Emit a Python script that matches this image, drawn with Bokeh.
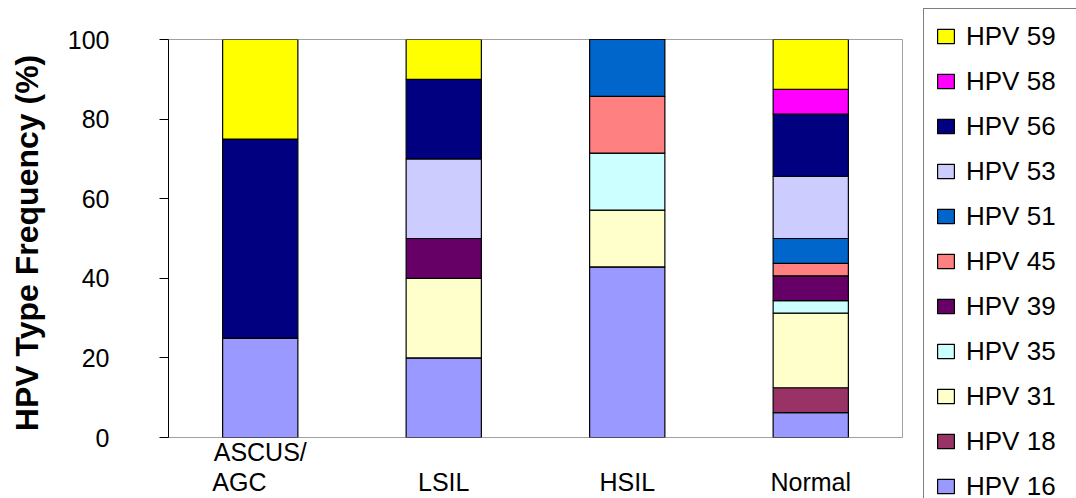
from bokeh.plotting import figure
from bokeh.layouts import row
from bokeh.models import (FactorRange, Range1d, Legend, LegendItem, FixedTicker,
                          ColumnDataSource, CustomJSTickFormatter)
from bokeh.embed import file_html
from bokeh.resources import INLINE

categories = ["ASCUS/AGC", "LSIL", "HSIL", "Normal"]
category_labels = ["ASCUS/\nAGC\u00a0\u00a0\u00a0\u00a0\u00a0\u00a0", "\nLSIL", "\nHSIL", "\nNormal"]

hpv16 = [25.0, 20.0, 42.86, 6.25]
hpv18 = [0.0, 0.0, 0.0, 6.25]
hpv31 = [0.0, 20.0, 14.29, 18.75]
hpv35 = [0.0, 0.0, 14.29, 3.125]
hpv39 = [0.0, 10.0, 0.0, 6.25]
hpv45 = [0.0, 0.0, 14.29, 3.125]
hpv51 = [0.0, 0.0, 14.28, 6.25]
hpv53 = [0.0, 20.0, 0.0, 15.625]
hpv56 = [50.0, 20.0, 0.0, 15.625]
hpv58 = [0.0, 0.0, 0.0, 6.25]
hpv59 = [25.0, 10.0, 0.0, 12.5]

series_names = ["HPV 16", "HPV 18", "HPV 31", "HPV 35", "HPV 39", "HPV 45",
                "HPV 51", "HPV 53", "HPV 56", "HPV 58", "HPV 59"]
series_values = [hpv16, hpv18, hpv31, hpv35, hpv39, hpv45, hpv51, hpv53, hpv56, hpv58, hpv59]
colors = ["#9999FF", "#993366", "#FFFFCC", "#CCFFFF", "#660066", "#FF8080",
          "#0066CC", "#CCCCFF", "#000080", "#FF00FF", "#FFFF00"]
y_ticks = [0, 20, 40, 60, 80, 100]

keys = ["s%d" % i for i in range(len(series_names))]
data = {"cat": categories}
for k, v in zip(keys, series_values):
    data[k] = v
source = ColumnDataSource(data)

p = figure(width=922, height=498, x_range=FactorRange(*categories, range_padding=0),
           y_range=Range1d(0, 100), output_backend="svg", toolbar_location=None,
           min_border_left=168, min_border_right=20, min_border_top=39, min_border_bottom=60)
p.frame_align = False

p.vbar_stack(keys, x="cat", width=0.41, source=source, fill_color=colors,
             line_color="black", line_width=1.2)

p.xgrid.visible = False
p.ygrid.visible = False
p.outline_line_color = "#a0a0a0"
p.outline_line_width = 1
p.background_fill_color = "white"
p.border_fill_color = "white"

# y axis
p.yaxis.ticker = FixedTicker(ticks=y_ticks)
p.yaxis.minor_tick_line_color = None
p.yaxis.major_tick_in = 0
p.yaxis.major_tick_out = 9
p.yaxis.axis_line_color = "black"
p.yaxis.major_tick_line_color = "black"
p.yaxis.major_label_text_font = "Liberation Sans"
p.yaxis.major_label_text_font_size = "25px"
p.yaxis.major_label_text_color = "black"
p.yaxis.major_label_standoff = 50
p.yaxis.axis_label = "HPV  Type Frequency (%)"
p.yaxis.axis_label_text_font = "Liberation Sans"
p.yaxis.axis_label_text_font_size = "32px"
p.yaxis.axis_label_text_font_style = "bold"
p.yaxis.axis_label_text_color = "black"
p.yaxis.axis_label_standoff = 20

# x axis
p.xaxis.axis_line_color = None
p.xaxis.major_tick_line_color = None
p.xaxis.minor_tick_line_color = None
p.xaxis.formatter = CustomJSTickFormatter(
    args=dict(cats=categories, labs=category_labels),
    code="const i = cats.indexOf(tick); return i >= 0 ? labs[i] : tick;")
p.xaxis.major_label_text_font = "Liberation Sans"
p.xaxis.major_label_text_font_size = "25px"
p.xaxis.major_label_text_color = "black"
p.xaxis.major_label_text_line_height = 1.08
p.xaxis.major_label_standoff = -6

# legend canvas to the right of the chart (its renderers are hidden; only the legend shows)
lf = figure(width=154, height=498, output_backend="svg", toolbar_location=None,
            x_axis_type=None, y_axis_type=None, min_border=0,
            x_range=FactorRange(*categories), y_range=Range1d(0, 100))
lf.frame_align = False
lf.outline_line_color = None
lf.xgrid.visible = False
lf.ygrid.visible = False
lf.background_fill_color = "white"
lf.border_fill_color = "white"

legend_renderers = lf.vbar_stack(keys, x="cat", width=0.41, source=source, fill_color=colors,
                                 line_color="black", line_width=1.2, visible=False)

items = [LegendItem(label=n, renderers=[r]) for n, r in zip(series_names, legend_renderers)]
items.reverse()
legend = Legend(items=items, location=(1, -16), ncols=1, margin=0,
                border_line_color="black", border_line_width=1,
                background_fill_color="white", background_fill_alpha=1,
                glyph_width=21, glyph_height=18, label_height=32, label_width=110,
                label_standoff=10, spacing=13, padding=11,
                label_text_font="Liberation Sans", label_text_font_size="26px",
                label_text_color="black")
lf.add_layout(legend, "center")

layout = row(p, lf, spacing=0)
open("out.html", "w").write(file_html(layout, INLINE))
